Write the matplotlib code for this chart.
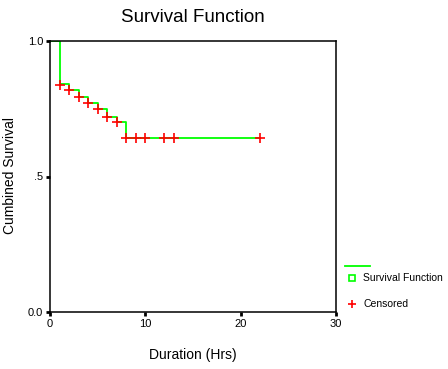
import matplotlib
matplotlib.use("Agg")
import matplotlib.pyplot as plt
from matplotlib.lines import Line2D

plt.rcParams['font.family'] = ['Liberation Sans', 'DejaVu Sans']

# Kaplan-Meier step values
times = [0, 1, 2, 3, 4, 5, 6, 7, 8, 22]
surv = [1.0, 0.840, 0.818, 0.792, 0.772, 0.748, 0.720, 0.700, 0.641, 0.641]

# censored cases
cens_t = [1, 2, 3, 4, 5, 6, 7, 8, 9, 10, 12, 13, 22]
cens_s = [0.838, 0.818, 0.792, 0.772, 0.748, 0.720, 0.700, 0.641,
          0.641, 0.641, 0.641, 0.641, 0.641]

x_ticks = [0, 10, 20, 30]
y_ticks = [0.0, 0.5, 1.0]
y_labels = ['0.0', '.5', '1.0']

GREEN = '#00ff00'
RED = '#ff0000'
W, H = 448, 369

fig = plt.figure(figsize=(W / 100, H / 100), dpi=100)
ax = fig.add_axes([50/W, 57/H, 286/W, 271/H])

ax.step(times, surv, where='post', color=GREEN, lw=1.3)
ax.plot(cens_t, cens_s, ls='none', marker='+', color=RED, ms=6.5, mew=1.2)

ax.set_xlim(0, 30)
ax.set_ylim(0, 1)
ax.set_xticks(x_ticks)
ax.set_xticklabels([str(t) for t in x_ticks])
ax.set_yticks(y_ticks)
ax.set_yticklabels(y_labels)
ax.tick_params(direction='out', length=3, width=2, labelsize=8, pad=2)
for s in ax.spines.values():
    s.set_linewidth(1.1)

fig.text(193/W, 1 - 355/H, 'Duration (Hrs)', fontsize=10,
         ha='center', va='center')
fig.text(10/W, 1 - 176/H, 'Cumbined Survival', fontsize=10,
         ha='center', va='center', rotation=90)
fig.text(193/W, 1 - 17/H, 'Survival Function', fontsize=13.5,
         ha='center', va='center')

# legend, outside right
fig.add_artist(Line2D([345/W, 370/W], [1 - 266/H, 1 - 266/H], color=GREEN, lw=1.3))
fig.add_artist(Line2D([352/W], [1 - 278/H], marker='s', ms=4, mfc='none',
                      mec=GREEN, mew=1.2, ls='none'))
fig.text(363/W, 1 - 278/H, 'Survival Function', fontsize=7.5, va='center')
fig.add_artist(Line2D([352/W], [1 - 304/H], marker='+', ms=6, color=RED,
                      mew=1.2, ls='none'))
fig.text(363/W, 1 - 304/H, 'Censored', fontsize=7.5, va='center')

fig.savefig('out.png', dpi=100)
